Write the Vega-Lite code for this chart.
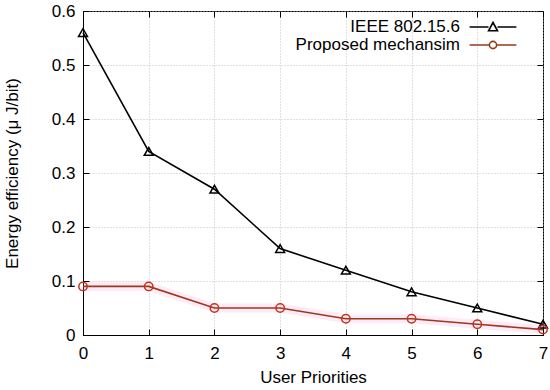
{
  "$schema": "https://vega.github.io/schema/vega-lite/v6.json",
  "width": 460,
  "height": 324,
  "autosize": {"type": "none"},
  "padding": {"left": 83, "top": 11, "right": 7, "bottom": 55},
  "background": "white",
  "config": {
    "font": "Liberation Sans",
    "view": {"stroke": "black", "strokeWidth": 1}
  },
  "data": {"values": [
    {"up": 0, "series": "IEEE 802.15.6", "e": 0.56},
    {"up": 1, "series": "IEEE 802.15.6", "e": 0.34},
    {"up": 2, "series": "IEEE 802.15.6", "e": 0.27},
    {"up": 3, "series": "IEEE 802.15.6", "e": 0.16},
    {"up": 4, "series": "IEEE 802.15.6", "e": 0.12},
    {"up": 5, "series": "IEEE 802.15.6", "e": 0.08},
    {"up": 6, "series": "IEEE 802.15.6", "e": 0.05},
    {"up": 7, "series": "IEEE 802.15.6", "e": 0.02},
    {"up": 0, "series": "Proposed mechansim", "e": 0.09},
    {"up": 1, "series": "Proposed mechansim", "e": 0.09},
    {"up": 2, "series": "Proposed mechansim", "e": 0.05},
    {"up": 3, "series": "Proposed mechansim", "e": 0.05},
    {"up": 4, "series": "Proposed mechansim", "e": 0.03},
    {"up": 5, "series": "Proposed mechansim", "e": 0.03},
    {"up": 6, "series": "Proposed mechansim", "e": 0.02},
    {"up": 7, "series": "Proposed mechansim", "e": 0.01}
  ]},
  "resolve": {"axis": {"x": "independent", "y": "independent"}},
  "layer": [
    {
      "transform": [{"filter": "datum.series === 'Proposed mechansim'"}],
      "mark": {"type": "line", "color": "#ff99dd", "strokeWidth": 9, "opacity": 0.2, "strokeCap": "butt"},
      "encoding": {
        "x": {"field": "up", "type": "quantitative", "scale": {"domain": [0, 7], "nice": false},
          "axis": {"orient": "bottom", "values": [0,1,2,3,4,5,6,7], "tickSize": -6, "tickColor": "black", "domainColor": "black", "labelColor": "black", "labelFont": "Liberation Sans", "labelFontSize": 17, "labelPadding": 16, "labelFlush": false, "title": "User Priorities", "titleFont": "Liberation Sans", "titleFontSize": 17, "titleFontWeight": "normal", "titleColor": "black", "titlePadding": 8, "grid": true, "gridColor": "#b0b0b0", "gridDash": [1, 2], "gridWidth": 0.8}},
        "y": {"field": "e", "type": "quantitative", "scale": {"domain": [0, 0.6], "nice": false},
          "axis": {"orient": "left", "values": [0,0.1,0.2,0.3,0.4,0.5,0.6], "tickSize": -6, "tickColor": "black", "domainColor": "black", "labelColor": "black", "labelFont": "Liberation Sans", "labelFontSize": 17, "labelPadding": 14, "labelFlush": false, "labelExpr": "datum.value == 0 ? '0' : format(datum.value, '.1f')", "title": "Energy efficiency (μ J/bit)", "titleFont": "Liberation Sans", "titleFontSize": 17, "titleFontWeight": "normal", "titleColor": "black", "titlePadding": 30, "grid": true, "gridColor": "#b0b0b0", "gridDash": [1, 2], "gridWidth": 0.8}}
      }
    },
    {
      "mark": {"type": "line", "strokeWidth": 1.6},
      "encoding": {
        "x": {"field": "up", "type": "quantitative", "axis": {"orient": "top", "values": [0,1,2,3,4,5,6,7], "tickSize": -6, "tickColor": "black", "labels": false, "title": null, "domain": false, "grid": false}},
        "y": {"field": "e", "type": "quantitative", "axis": {"orient": "right", "values": [0,0.1,0.2,0.3,0.4,0.5,0.6], "tickSize": -6, "tickColor": "black", "labels": false, "title": null, "domain": false, "grid": false}},
        "color": {"field": "series", "type": "nominal", "scale": {"domain": ["IEEE 802.15.6", "Proposed mechansim"], "range": ["black", "#9a3a1a"]},
          "legend": {"title": null, "orient": "none", "legendX": 400, "legendY": 6, "padding": 0, "labelFontSize": 17, "labelFont": "Liberation Sans", "labelColor": "black", "labelLimit": 400, "symbolSize": 324, "symbolStrokeWidth": 1.6, "rowPadding": 0,
            "encode": {
              "symbols": {"update": {
                "shape": {"signal": "datum.value === 'IEEE 802.15.6' ? 'M-2.6,0H-0.5M0.5,0H2.6M-0.5,0.42L0,-0.5L0.5,0.42Z' : 'M-2.6,0H-0.4M0.4,0H2.6M0.4,0A0.4,0.4 0 1,1 -0.4,0A0.4,0.4 0 1,1 0.4,0'"},
                "stroke": {"signal": "datum.value === 'IEEE 802.15.6' ? 'black' : '#ff1a1a'"},
                "fill": {"value": "transparent"}
              }},
              "labels": {"update": {"align": {"value": "right"}, "x": {"value": -23}}}
            }}}
      }
    },
    {
      "transform": [{"filter": "datum.series === 'IEEE 802.15.6'"}],
      "mark": {"type": "point", "shape": "triangle-up", "filled": false, "size": 80, "strokeWidth": 1.5, "opacity": 1, "stroke": "black"},
      "encoding": {
        "x": {"field": "up", "type": "quantitative", "axis": null},
        "y": {"field": "e", "type": "quantitative", "axis": null}
      }
    },
    {
      "transform": [{"filter": "datum.series === 'Proposed mechansim'"}],
      "mark": {"type": "point", "shape": "circle", "filled": false, "size": 70, "strokeWidth": 1.5, "opacity": 1, "stroke": "#c8301e"},
      "encoding": {
        "x": {"field": "up", "type": "quantitative", "axis": null},
        "y": {"field": "e", "type": "quantitative", "axis": null}
      }
    }
  ]
}
